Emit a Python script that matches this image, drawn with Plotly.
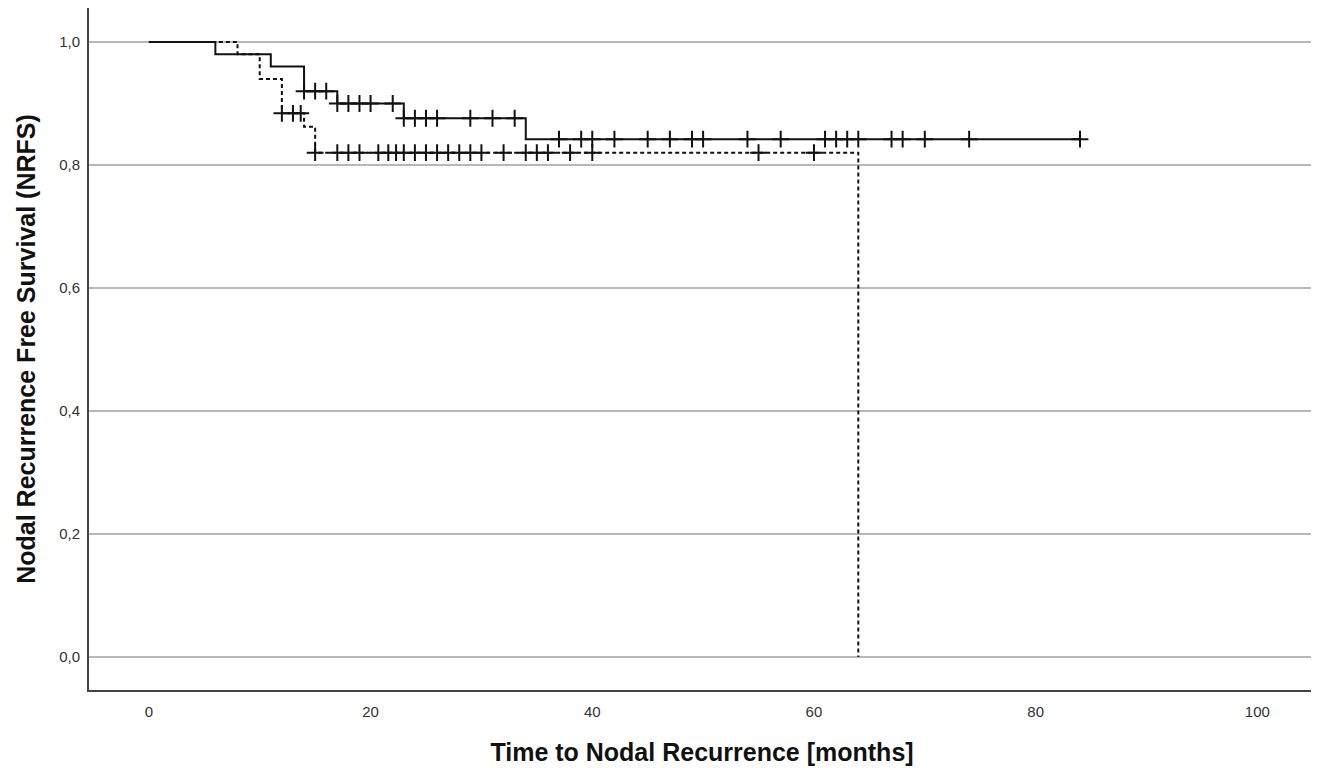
import plotly.graph_objects as go
import bisect

# Kaplan-Meier step data (months, survival)
solid_times = [0, 6, 11, 14, 17, 23, 34, 84]
solid_surv = [1.0, 0.98, 0.96, 0.92, 0.90, 0.876, 0.842, 0.842]
solid_censored = [14, 15, 16, 17, 18, 19, 20, 22, 23, 24, 25, 26, 29, 31, 33,
                  37, 39, 40, 42, 45, 47, 49, 50, 54, 57, 61, 62, 63, 64,
                  67, 68, 70, 74, 84]

dashed_times = [0, 8, 10, 12, 14, 15, 64]
dashed_surv = [1.0, 0.98, 0.94, 0.884, 0.862, 0.82, 0.0]
dashed_censored = [12, 13, 13.7, 15, 17, 18, 19, 20.7, 21.6, 22.3, 23, 24, 25,
                   26, 27, 28, 29, 30, 32, 34, 35, 36, 38, 40, 55, 60]

x_ticks = [0, 20, 40, 60, 80, 100]
y_ticks = [0.0, 0.2, 0.4, 0.6, 0.8, 1.0]


def level_at(times, surv, t):
    i = bisect.bisect_right(times, t) - 1
    return surv[i]


fig = go.Figure()

fig.add_trace(go.Scatter(x=solid_times, y=solid_surv, mode="lines",
                         line=dict(color="#111111", width=2, shape="hv"),
                         showlegend=False, hoverinfo="skip"))
fig.add_trace(go.Scatter(x=dashed_times, y=dashed_surv, mode="lines",
                         line=dict(color="#111111", width=2, shape="hv", dash="4px,3px"),
                         showlegend=False, hoverinfo="skip"))

fig.add_trace(go.Scatter(x=solid_censored,
                         y=[level_at(solid_times, solid_surv, t) for t in solid_censored],
                         mode="markers",
                         marker=dict(symbol="cross-thin", size=12,
                                     line=dict(color="#111111", width=2)),
                         showlegend=False))
fig.add_trace(go.Scatter(x=dashed_censored,
                         y=[level_at(dashed_times, dashed_surv, t) for t in dashed_censored],
                         mode="markers",
                         marker=dict(symbol="cross-thin", size=12,
                                     line=dict(color="#111111", width=2)),
                         showlegend=False))

fig.update_layout(
    width=1311, height=767,
    margin=dict(l=81, r=4, t=0, b=85, autoexpand=False),
    paper_bgcolor="white", plot_bgcolor="white",
    separators=",.",
    font=dict(family="Liberation Sans, Arial, sans-serif", color="#333333"),
    xaxis=dict(range=[-5.4, 105.2], tickvals=x_ticks, showgrid=False,
               zeroline=False, showline=True, linecolor="#444444", linewidth=2,
               ticks="", tickfont=dict(size=15, color="#333333"),
               ticklabelstandoff=7, automargin=False,
               title=dict(text="<b>Time to Nodal Recurrence [months]</b>",
                          font=dict(size=25, color="#111111"), standoff=24)),
    yaxis=dict(range=[-0.0537, 1.0553], tickvals=y_ticks, tickformat=".1f",
               showgrid=True, gridcolor="#b8b8b8", gridwidth=2,
               zeroline=False, showline=True, linecolor="#444444", linewidth=2,
               ticks="", tickfont=dict(size=15, color="#333333"),
               ticklabelstandoff=4, automargin=False,
               title=dict(text="<b>Nodal Recurrence Free Survival (NRFS)</b>",
                          font=dict(size=25, color="#111111"), standoff=16)),
)

fig.write_html("out.html")
